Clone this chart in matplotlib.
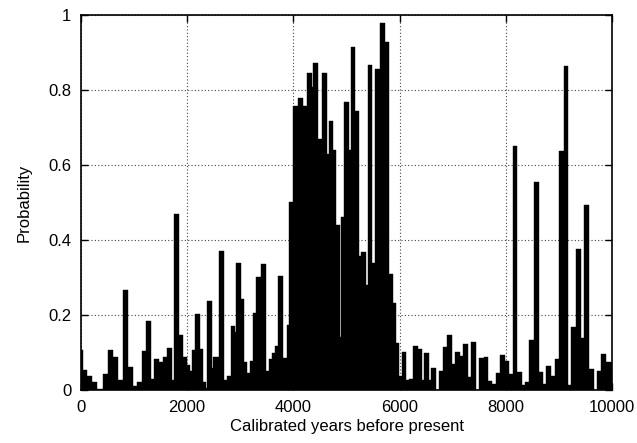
import numpy as np
import matplotlib.pyplot as plt

plt.rcParams['font.family'] = ['Liberation Sans', 'DejaVu Sans']

# bar edges (calibrated years BP), one more than heights
edges = [-63, 44, 119, 214, 308, 408, 503, 597, 691, 785, 879, 974, 1049,
         1143, 1225, 1319, 1382, 1476, 1539, 1614, 1708, 1752, 1853, 1928,
         1991, 2054, 2085, 2148, 2242, 2305, 2355, 2380, 2474, 2493, 2600,
         2701, 2744, 2820, 2901, 2920, 3014, 3077, 3121, 3184, 3234, 3291,
         3385, 3485, 3548, 3605, 3661, 3711, 3812, 3875, 3925, 3988, 4094,
         4189, 4252, 4346, 4377, 4471, 4547, 4641, 4672, 4754, 4804, 4880,
         4898, 4961, 5055, 5087, 5162, 5244, 5269, 5369, 5395, 5476, 5538,
         5633, 5727, 5803, 5866, 5935, 5997, 6041, 6123, 6167, 6242, 6337,
         6418, 6450, 6544, 6594, 6688, 6745, 6814, 6889, 6983, 7034, 7128,
         7184, 7285, 7341, 7436, 7498, 7580, 7662, 7737, 7812, 7882, 7988,
         8064, 8126, 8212, 8302, 8365, 8440, 8522, 8616, 8698, 8754, 8855,
         8918, 8999, 9087, 9169, 9232, 9320, 9407, 9470, 9571, 9652, 9715,
         9791, 9885, 9990]

prob = [0.107, 0.053, 0.037, 0.020, 0.002, 0.042, 0.107, 0.087, 0.025, 0.267,
        0.062, 0.009, 0.021, 0.103, 0.183, 0.028, 0.082, 0.075, 0.087, 0.112,
        0.027, 0.469, 0.146, 0.087, 0.066, 0.049, 0.107, 0.202, 0.108, 0.022,
        0.005, 0.238, 0.058, 0.087, 0.371, 0.025, 0.037, 0.171, 0.155, 0.338,
        0.243, 0.073, 0.046, 0.076, 0.206, 0.302, 0.335, 0.049, 0.083, 0.098,
        0.117, 0.303, 0.084, 0.173, 0.502, 0.757, 0.778, 0.757, 0.846, 0.809,
        0.871, 0.668, 0.846, 0.629, 0.716, 0.640, 0.440, 0.142, 0.462, 0.769,
        0.640, 0.914, 0.745, 0.356, 0.369, 0.280, 0.867, 0.338, 0.855, 0.980,
        0.928, 0.309, 0.231, 0.124, 0.037, 0.100, 0.025, 0.029, 0.116, 0.109,
        0.025, 0.099, 0.025, 0.059, 0.000, 0.051, 0.114, 0.147, 0.069, 0.100,
        0.089, 0.123, 0.034, 0.127, 0.000, 0.084, 0.087, 0.024, 0.015, 0.044,
        0.093, 0.077, 0.043, 0.651, 0.048, 0.013, 0.022, 0.133, 0.555, 0.047,
        0.015, 0.064, 0.037, 0.082, 0.637, 0.865, 0.013, 0.169, 0.375, 0.138,
        0.493, 0.055, 0.000, 0.051, 0.095, 0.073]

xticks = [0, 2000, 4000, 6000, 8000, 10000]
yticks = [0, 0.2, 0.4, 0.6, 0.8, 1]
ytick_labels = ['0', '0.2', '0.4', '0.6', '0.8', '1']

edges = np.array(edges)
fig = plt.figure(figsize=(6.37, 4.43), dpi=100)
ax = fig.add_axes([0.127, 0.12, 0.834, 0.846])

ax.bar(edges[:-1], prob, width=np.diff(edges), align='edge',
       color='black', edgecolor='black', linewidth=0.3, zorder=2)

ax.set_xlim(0, 10000)
ax.set_ylim(0, 1)
ax.set_xticks(xticks)
ax.set_yticks(yticks)
ax.set_yticklabels(ytick_labels)
ax.grid(True, linestyle=(0, (1, 2)), color='#444444', linewidth=0.8, zorder=0)
ax.set_axisbelow(True)
ax.tick_params(direction='in', length=5, width=1, top=True, right=True,
               labelsize=12, pad=7)
for s in ax.spines.values():
    s.set_linewidth(1.2)
    s.set_zorder(3)

ax.set_xlabel('Calibrated years before present', fontsize=12, labelpad=3)
ax.set_ylabel('Probability', fontsize=12, labelpad=12)

fig.savefig('out.png', dpi=100)
